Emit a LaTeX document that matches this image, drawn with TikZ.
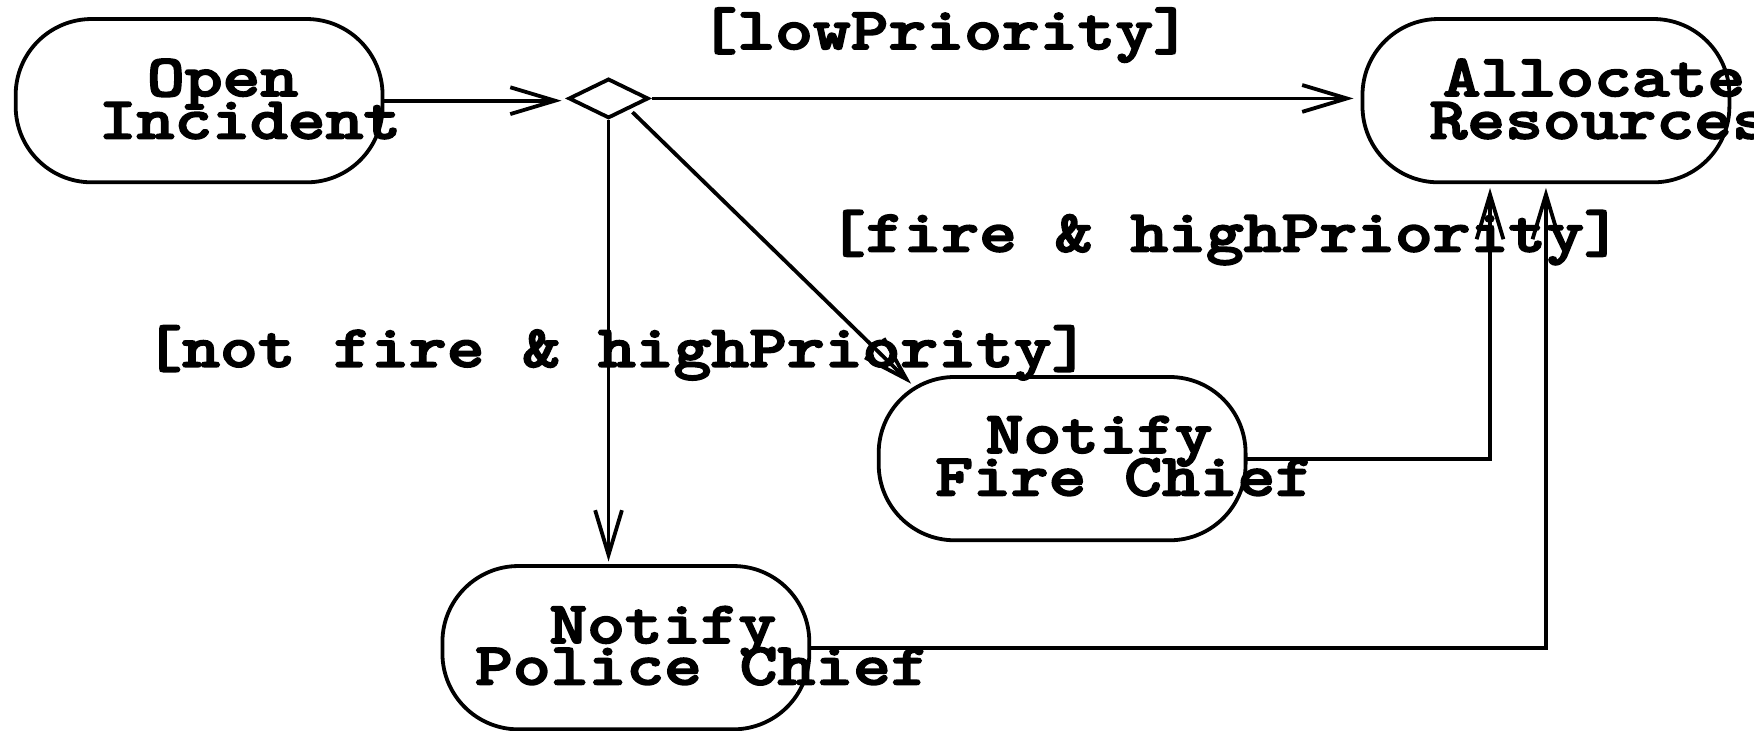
\documentclass[tikz,border=0pt]{standalone}
\usepackage{fontspec}
\newfontfamily\lmb{lmmonolt10-bold.otf}[FakeBold=2.5]
\usetikzlibrary{arrows.meta,shapes.geometric,calc}
\newcommand{\mytxt}[1]{\scalebox{1.2}[1]{#1}}
\begin{document}
\begin{tikzpicture}[x=1.1186pt,y=-1.1186pt,
  line width=3.8pt,
  actbox/.style={draw, rectangle, rounded corners=76pt, minimum width=366.9pt, minimum height=163.3pt, inner sep=0pt, outer sep=0pt},
  decbox/.style={draw, diamond, minimum width=78.3pt, minimum height=38pt, inner sep=0pt, outer sep=0pt},
  txt/.style={font=\lmb\fontsize{60pt}{60pt}\selectfont, anchor=base, inner sep=0pt},
  arr/.style={-{Straight Barb[length=44.7pt,width=26.8pt]}},
]
\useasboundingbox (0,0) rectangle (1568,653);

% activity boxes
\node[actbox] (open)   at (178,90) {};
\node[actbox] (alloc)  at (1382,90) {};
\node[actbox] (fire)   at (949.5,410) {};
\node[actbox] (police) at (559.5,579) {};
\node[decbox] (dec)    at (544,88) {};

% box texts
\node[txt] (t1) at (199,86) {\mytxt{Open}};
\node[txt] (t2) at (223.5,124) {\mytxt{Incident}};
\node[txt] (t3) at (1425,86) {\mytxt{Allocate}};
\node[txt] (t4) at (1430,124) {\mytxt{Resources}};
\node[txt] (t5) at (982.5,405) {\mytxt{Notify}};
\node[txt] (t6) at (1005,443) {\mytxt{Fire Chief}};
\node[txt] (t7) at (592.5,575) {\mytxt{Notify}};
\node[txt] (t8) at (627.5,612) {\mytxt{Police Chief}};

% guard labels
\node[txt] (g1) at (845,44) {\mytxt{[lowPriority]}};
\node[txt] (g2) at (1095,225) {\mytxt{[fire \& highPriority]}};
\node[txt] (g3) at (551.5,328) {\mytxt{[not fire \& highPriority]}};

% connectors
\draw[arr, shorten >=7.8pt] (open.east) -- (open.east -| dec.west);
\draw[arr, shorten <=4.5pt, shorten >=9pt] (dec.east) -- (dec.east -| alloc.west);
\draw[arr, shorten <=3pt, shorten >=4.5pt] (dec.south) -- (dec.south |- police.north);
\draw[arr, shorten <=6pt] (dec.south east) -- ($(fire.north west)+(29,6)$);
\draw[arr, shorten >=5.6pt] (fire.east) -| ($(alloc.south)+(-50,0)$);
\draw[arr, shorten >=5.6pt] (police.east) -| (alloc.south);
\end{tikzpicture}
\end{document}
